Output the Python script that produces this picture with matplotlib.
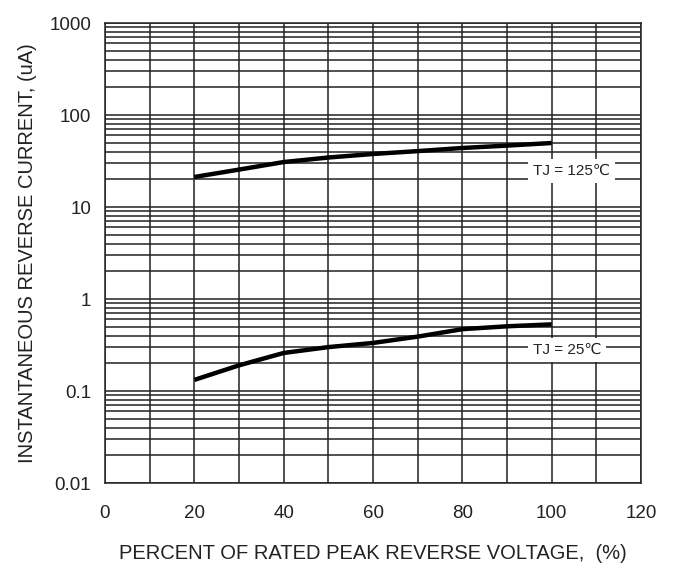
import matplotlib
matplotlib.use("Agg")
import matplotlib.pyplot as plt
import numpy as np
from matplotlib.ticker import LogLocator, FixedLocator, NullFormatter, FixedFormatter

plt.rcParams['font.family'] = ['Liberation Sans', 'DejaVu Sans']

voltage_pct = [20, 30, 40, 50, 60, 70, 80, 90, 100]
current_125 = [21.2, 25.5, 30.8, 34.5, 37.7, 40.5, 43.8, 46.5, 49.6]
current_25 = [0.132, 0.190, 0.259, 0.300, 0.333, 0.390, 0.470, 0.505, 0.530]

x_ticks = [0, 20, 40, 60, 80, 100, 120]
y_ticks = [0.01, 0.1, 1, 10, 100, 1000]
y_tick_labels = ["0.01", "0.1", "1", "10", "100", "1000"]

fig = plt.figure(figsize=(6.77, 5.66), dpi=100)
ax = fig.add_axes([105/677, 1-483/566, (641-105)/677, (483-23)/566])

ax.set_yscale('log')
ax.set_xlim(0, 120)
ax.set_ylim(0.01, 1000)

ax.xaxis.set_major_locator(FixedLocator(x_ticks))
ax.xaxis.set_minor_locator(FixedLocator(list(range(0, 121, 10))))
ax.yaxis.set_major_locator(FixedLocator(y_ticks))
ax.yaxis.set_major_formatter(FixedFormatter(y_tick_labels))
ax.yaxis.set_minor_locator(LogLocator(base=10, subs=np.arange(2, 10)))
ax.yaxis.set_minor_formatter(NullFormatter())

gcol = '#222222'
ax.grid(True, which='both', axis='both', color=gcol, linewidth=1.1)
for s in ax.spines.values():
    s.set_color(gcol)
    s.set_linewidth(1.1)
ax.tick_params(which='both', length=0, labelsize=13.5, colors='#222222')
ax.tick_params(axis='x', pad=16)
ax.tick_params(axis='y', pad=10)
ax.set_axisbelow(True)

ax.plot(voltage_pct, current_125, color='black', linewidth=3.2, solid_capstyle='butt', zorder=3)
ax.plot(voltage_pct, current_25, color='black', linewidth=3.2, solid_capstyle='butt', zorder=3)

bb = dict(facecolor='white', edgecolor='none', pad=3.5)
ax.text(95.9, 24.6, "TJ = 125\u2103", fontsize=11, ha='left', va='center', bbox=bb, zorder=4, color='#222222')
ax.text(95.8, 0.279, "TJ = 25\u2103", fontsize=11, ha='left', va='center', bbox=bb, zorder=4, color='#222222')

ax.set_xlabel("PERCENT OF RATED PEAK REVERSE VOLTAGE,  (%)", fontsize=14.5, color='#222222', labelpad=16)
ax.set_ylabel("INSTANTANEOUS REVERSE CURRENT, (uA)", fontsize=14.5, color='#222222', labelpad=9)

fig.savefig("out.png", dpi=100)
